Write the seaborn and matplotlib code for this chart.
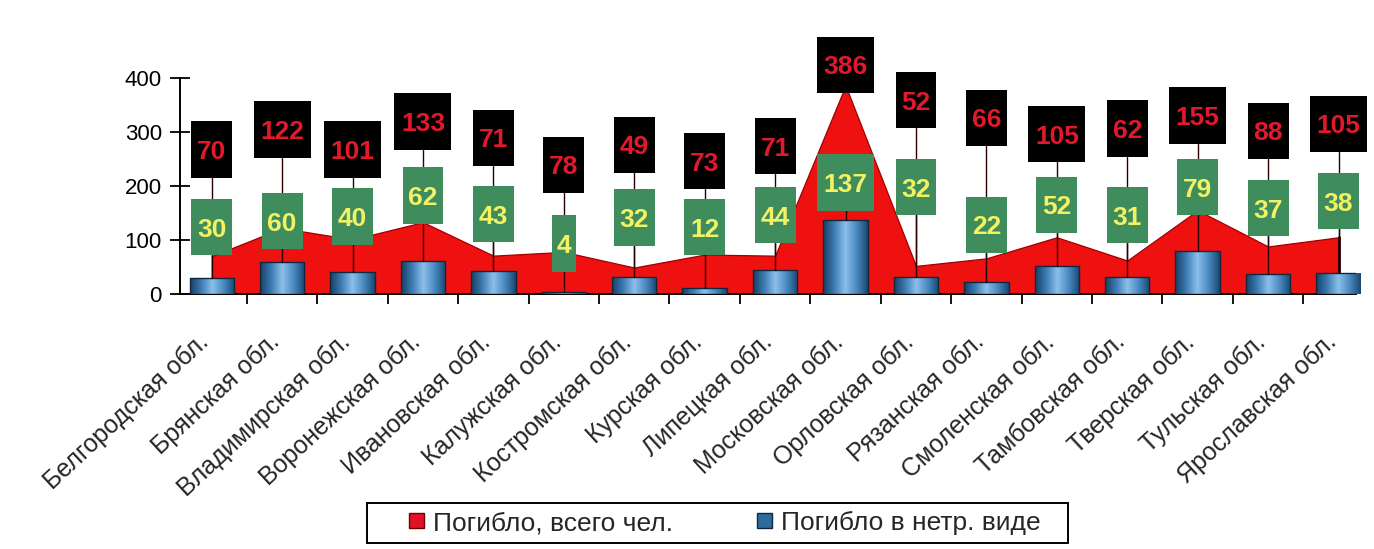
import numpy as np
import pandas as pd
import matplotlib
matplotlib.use("Agg")
import matplotlib.pyplot as plt
import matplotlib.transforms as mtransforms
import seaborn as sns
from matplotlib.patches import Rectangle, Patch
from matplotlib.colors import LinearSegmentedColormap

# ---- data ----
regions = ["Белгородская обл.", "Брянская обл.", "Владимирская обл.", "Воронежская обл.",
           "Ивановская обл.", "Калужская обл.", "Костромская обл.", "Курская обл.",
           "Липецкая обл.", "Московская обл.", "Орловская обл.", "Рязанская обл.",
           "Смоленская обл.", "Тамбовская обл.", "Тверская обл.", "Тульская обл.",
           "Ярославская обл."]
total = [70, 122, 101, 133, 71, 78, 49, 73, 71, 386, 52, 66, 105, 62, 155, 88, 105]
partial = [30, 60, 40, 62, 43, 4, 32, 12, 44, 137, 32, 22, 52, 31, 79, 37, 38]
series_names = ["Погибло, всего чел.", "Погибло в нетр. виде"]
yticks = [0, 100, 200, 300, 400]

# ---- layout: centre heights of the data-label boxes (as placed in the original) ----
total_label_y = [267, 304, 267, 320, 289, 239, 276, 246, 274, 424, 359, 326, 296, 306, 330, 302, 315]
partial_label_y = [124, 135, 144, 183, 148, 93, 141, 124, 146, 207, 198, 128, 165, 146, 198, 159, 172]

sns.set_theme(style="white")
plt.rcParams['font.family'] = ['Liberation Sans', 'DejaVu Sans']

fig = plt.figure(figsize=(13.74, 5.49), dpi=100)
ax = fig.add_axes([0.131, 0.4645, 0.856, 0.3935])

df = pd.DataFrame({"region": regions, "total": total, "partial": partial})
x = np.arange(len(regions))

RED = "#ef1010"
BLUE = "#3f7fb8"

# area series
ax.fill_between(x, 0, df["total"], color=RED, edgecolor="#a00000", linewidth=0.9, zorder=1)
ax.plot([x[-1], x[-1]], [0, total[-1]], color="#200000", lw=2.0, zorder=1.5)

# bar series
sns.barplot(data=df, x="region", y="partial", color=BLUE, width=0.63,
            edgecolor="#0f2840", linewidth=1.0, ax=ax, zorder=3)

# cylinder-like shading on bars
grad = np.linspace(0, 1, 128).reshape(1, -1)
cmap = LinearSegmentedColormap.from_list(
    "cyl", ["#173f63", "#3d7cb4", "#8cc0ea", "#4a8ac2", "#1a4670"])
for p in list(ax.patches):
    if isinstance(p, Rectangle) and p.get_height() > 0:
        bx, by, bw, bh = p.get_x(), p.get_y(), p.get_width(), p.get_height()
        im = ax.imshow(grad, extent=[bx, bx + bw, by, by + bh], cmap=cmap,
                       aspect='auto', zorder=2.9, interpolation='bilinear')
        im.set_clip_path(p)
        p.set_facecolor('none')

ax.set_xlim(-0.45, 16.25)
ax.set_ylim(0, 400)

# data labels with leader lines
BOX_H = 105


def box_label(xc, yc, val, face, tc):
    n = len(str(val))
    w = 0.12 + 0.23 * n
    ax.add_patch(Rectangle((xc - w / 2, yc - BOX_H / 2), w, BOX_H, facecolor=face,
                           edgecolor='none', zorder=5, clip_on=False))
    ax.text(xc, yc, str(val), ha='center', va='center_baseline', color=tc,
            fontsize=19, fontweight='bold', zorder=6, clip_on=False)


for i in range(len(regions)):
    bottom_t = total_label_y[i] - BOX_H / 2
    if bottom_t > total[i]:
        ax.plot([i, i], [total[i], bottom_t], color="#2a0000", lw=1.0, zorder=2)
    bottom_p = partial_label_y[i] - BOX_H / 2
    if bottom_p > partial[i]:
        ax.plot([i, i], [partial[i], bottom_p], color="#2a0000", lw=1.0, zorder=4)
    box_label(i, total_label_y[i], total[i], "#000000", "#e3182b")
    box_label(i, partial_label_y[i], partial[i], "#3f8c5c", "#f2f264")

# axes styling
for s in ["top", "right"]:
    ax.spines[s].set_visible(False)
for s in ["left", "bottom"]:
    ax.spines[s].set_color("black")
    ax.spines[s].set_linewidth(1.4)

ax.set_yticks(yticks)
ax.tick_params(axis='y', which='major', left=True, direction='inout', length=14,
               width=1.3, labelsize=16, colors='black', pad=6)
ax.set_xticks(x)
ax.set_xticklabels(regions, rotation=43, ha='right', va='center',
                   rotation_mode='anchor', fontsize=18)
ax.tick_params(axis='x', which='major', bottom=False, length=0, pad=32)
shift = mtransforms.ScaledTranslation(-6 / 100, 0, fig.dpi_scale_trans)
for lab in ax.get_xticklabels():
    lab.set_transform(lab.get_transform() + shift)
ax.set_xticks(np.arange(0.5, len(regions) - 1, 1), minor=True)
ax.tick_params(axis='x', which='minor', bottom=True, direction='out', length=7,
               width=1.3, colors='black')
ax.set_xlabel("")
ax.set_ylabel("")

# legend (frame drawn separately to match the original box)
fig.add_artist(Rectangle((367 / 1374, 6 / 549), 701 / 1374, 40 / 549,
                         transform=fig.transFigure, fill=False, edgecolor='black',
                         linewidth=1.4))
handles = [Patch(facecolor="#e3102a", edgecolor="#700000"),
           Patch(facecolor="#2f6a9c", edgecolor="#0f2840")]
leg = fig.legend(handles, series_names, loc='center left',
                 bbox_to_anchor=(409 / 1374, 26 / 549), ncol=2, frameon=False,
                 fontsize=19, handlelength=0.57, handleheight=0.5,
                 handletextpad=0.34, columnspacing=3.2, borderpad=0.0,
                 borderaxespad=0.0)

fig.savefig("out.png", dpi=100)
